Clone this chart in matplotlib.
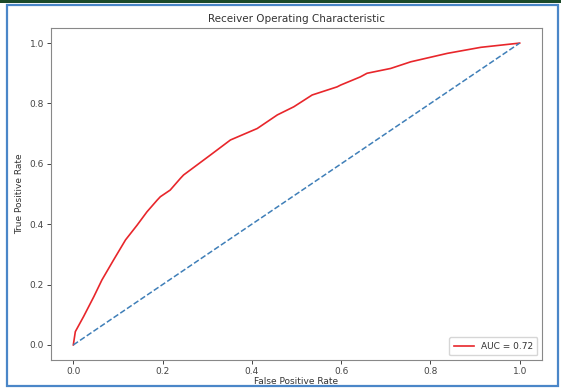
import matplotlib
matplotlib.use("Agg")
from matplotlib import pyplot as plt
from matplotlib.patches import Rectangle

# ROC curve points
fpr = [0.0, 0.0045, 0.023, 0.046, 0.064, 0.090, 0.117, 0.143, 0.165, 0.188,
       0.195, 0.217, 0.240, 0.247, 0.277, 0.307, 0.352, 0.412, 0.457, 0.494,
       0.535, 0.591, 0.599, 0.643, 0.658, 0.711, 0.756, 0.838, 0.913, 1.0]
tpr = [0.0, 0.044, 0.094, 0.160, 0.215, 0.281, 0.348, 0.397, 0.441, 0.480,
       0.491, 0.513, 0.552, 0.563, 0.596, 0.629, 0.679, 0.717, 0.762, 0.789,
       0.828, 0.855, 0.861, 0.888, 0.900, 0.916, 0.938, 0.966, 0.986, 1.0]
roc_auc = 0.72
ticks = [0.0, 0.2, 0.4, 0.6, 0.8, 1.0]

W, H = 561, 389
fig = plt.figure(figsize=(W / 100, H / 100), dpi=100)
ax = fig.add_axes([51 / W, (H - 360) / H, (542 - 51) / W, (360 - 28) / H])

ax.plot(fpr, tpr, color="#e8262b", lw=1.2, label=f"AUC = {roc_auc:.2f}")
ax.plot([0, 1], [0, 1], linestyle="--", color="#3f7fb8", lw=1.1)

ax.set_xlim(-0.05, 1.05)
ax.set_ylim(-0.05, 1.05)
ax.set_xticks(ticks)
ax.set_yticks(ticks)
ax.tick_params(axis="both", labelsize=6.5, length=3, width=0.7,
               colors="#444444", pad=2)
for spine in ax.spines.values():
    spine.set_color("#888888")
    spine.set_linewidth(0.8)

ax.set_title("Receiver Operating Characteristic", fontsize=7.5, color="#333333", pad=4)
ax.set_xlabel("False Positive Rate", fontsize=6.5, color="#333333", labelpad=1)
ax.set_ylabel("True Positive Rate", fontsize=6.5, color="#333333", labelpad=4)

leg = ax.legend(loc="lower right", fontsize=6.5, handlelength=2.2, borderpad=0.5)
leg.get_frame().set_edgecolor("#cccccc")
for t in leg.get_texts():
    t.set_color("#333333")

# Screenshot frame: dark green strip on top, blue border round the chart
fig.patches.append(Rectangle((0, 1 - 3 / H), 1, 3 / H, transform=fig.transFigure,
                             facecolor="#1b4a2a", edgecolor="none"))
fig.patches.append(Rectangle((6.5 / W, 3.5 / H), (558 - 6.5) / W, (385 - 4.5) / H,
                             transform=fig.transFigure, facecolor="none",
                             edgecolor="#4a86c8", lw=1.6))

fig.savefig("out.png", dpi=100)
